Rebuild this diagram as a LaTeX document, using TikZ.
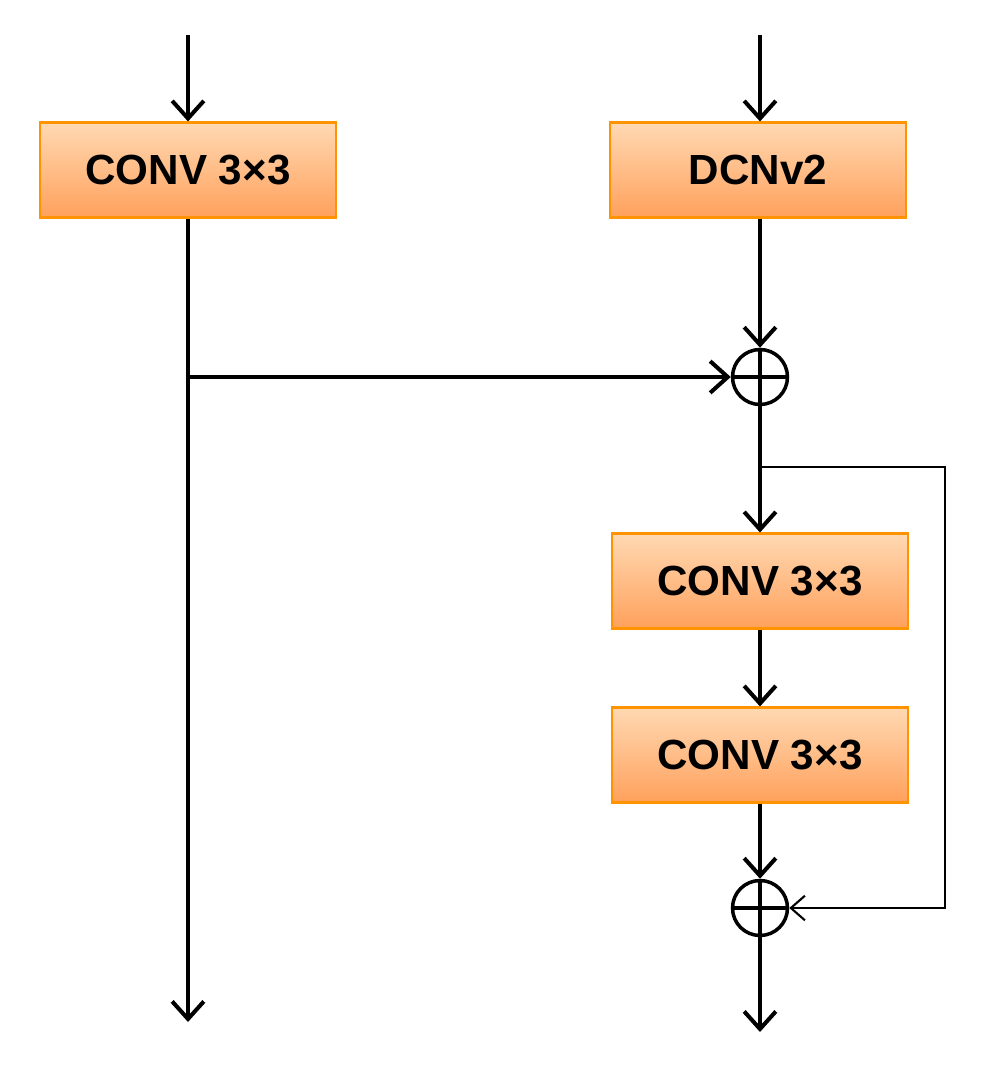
\documentclass[tikz,border=0pt]{standalone}
\usepackage{fontspec}
\setmainfont{Liberation Sans}
\usetikzlibrary{arrows.meta}
\begin{document}
\begin{tikzpicture}[x=0.02cm,y=-0.02cm,
  blk/.style={draw=orange!80!red!70!yellow, line width=1.2pt, top color=orange!30!white, bottom color=orange!60!white!90!red, minimum width=5.92cm, minimum height=1.9cm, font=\fontsize{24}{28}\selectfont\bfseries, inner sep=0pt},
  sumn/.style={circle, draw, line width=2pt, minimum size=1.1cm, inner sep=0pt},
  thick arr/.style={line width=2.3pt, -{Straight Barb[length=10pt,width=18pt,line width=2.3pt]}},
  thin arr/.style={line width=1.2pt, -{Straight Barb[length=8pt,width=14pt,line width=1.2pt]}}]
\useasboundingbox (0,0) rectangle (1003,1078);
\node[blk] (c1) at (188,170) {CONV 3×3};
\node[blk] (d) at (758,170) {DCNv2};
\node[sumn] (p1) at (760,377) {};
\draw[line width=2pt] (p1.north)--(p1.south) (p1.west)--(p1.east);
\node[blk] (c2) at (760,581) {CONV 3×3};
\node[blk] (c3) at (760,755) {CONV 3×3};
\node[sumn] (p2) at (760,908) {};
\draw[line width=2pt] (p2.north)--(p2.south) (p2.west)--(p2.east);
\coordinate (t1) at (188,35);
\coordinate (t2) at (760,35);
\coordinate (b1) at (188,1022);
\coordinate (b2) at (760,1032);
\coordinate (br) at (188,377);
\coordinate (sk) at (760,467);
\draw[thick arr] (t1) -- (c1.north);
\draw[thick arr] (t2) -- (d.north-|t2);
\draw[thick arr] (c1.south) -- (b1);
\draw[thick arr] (br) -- (p1.west);
\draw[thick arr] (d.south-|p1) -- (p1.north);
\draw[thick arr] (p1.south) -- (c2.north);
\draw[thick arr] (c2.south) -- (c3.north);
\draw[thick arr] (c3.south) -- (p2.north);
\draw[thick arr] (p2.south) -- (b2);
\draw[thin arr] (sk) -- (945,467) -- (945,908) -- (p2.east);
\end{tikzpicture}
\end{document}
